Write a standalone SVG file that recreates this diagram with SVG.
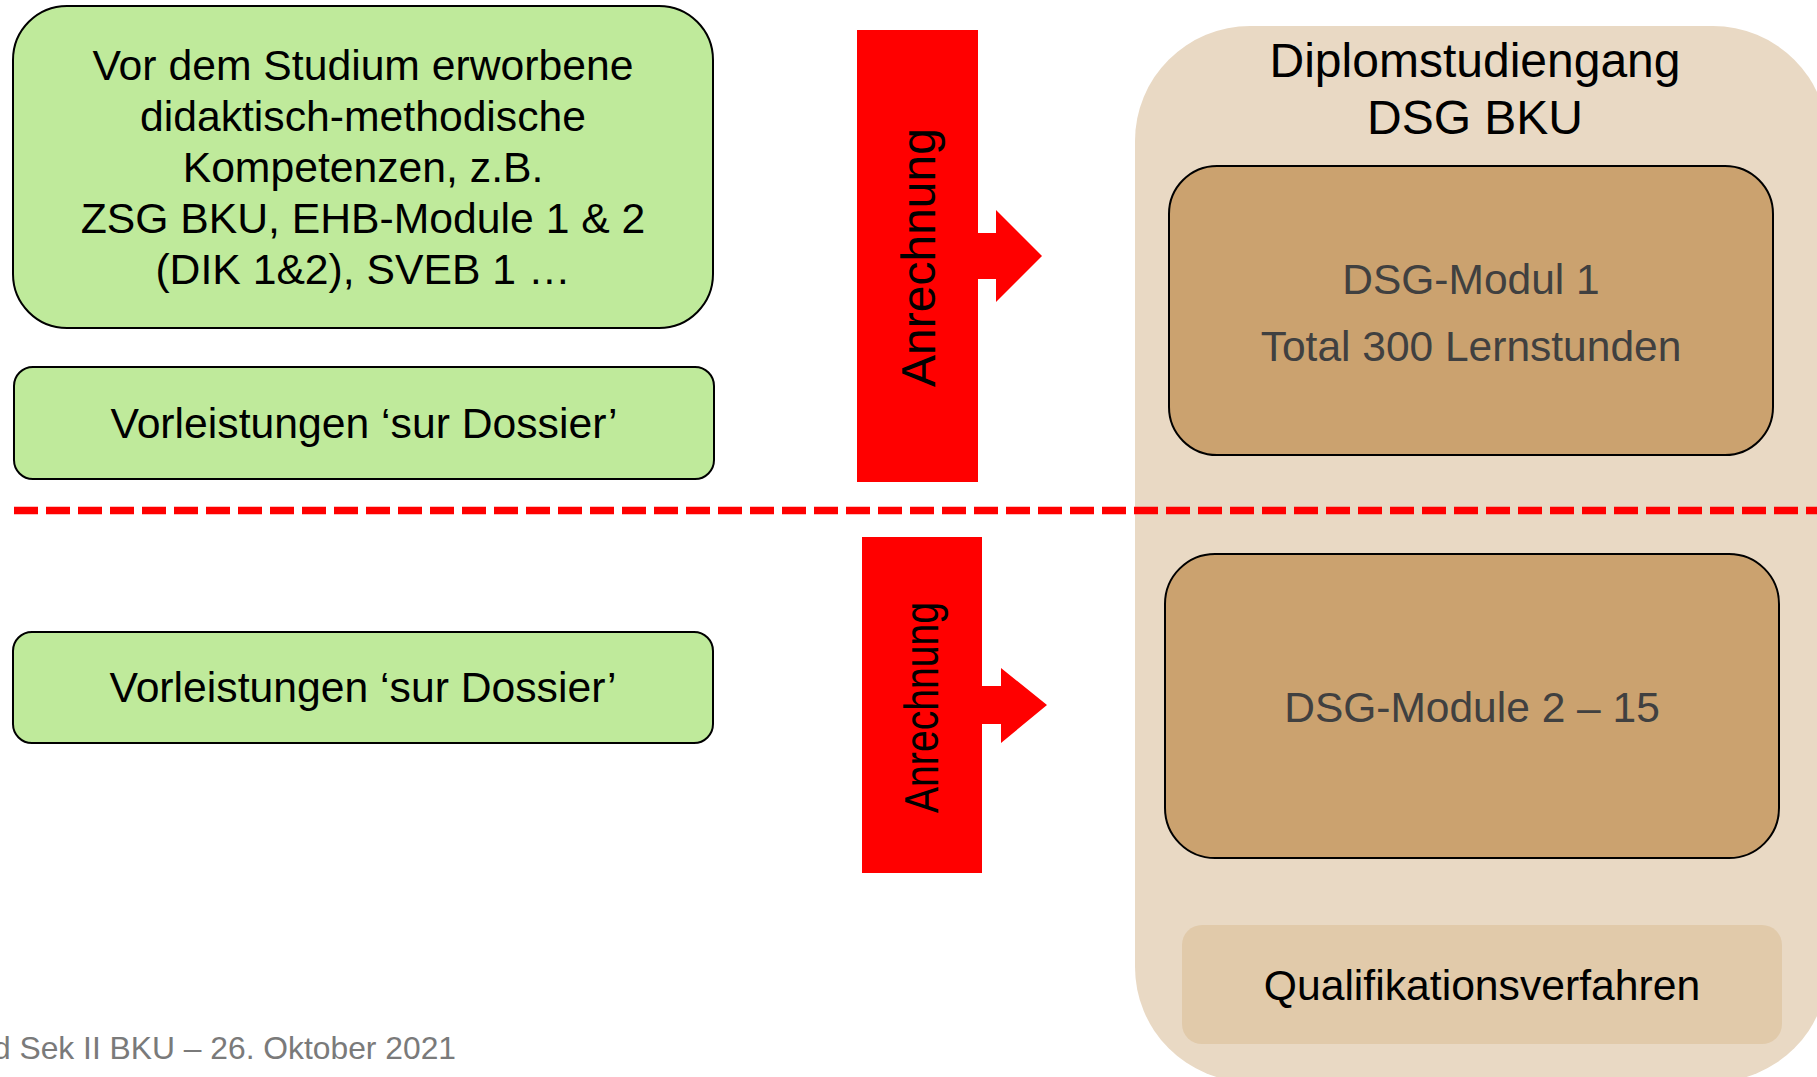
<svg xmlns="http://www.w3.org/2000/svg" width="1817" height="1077" viewBox="0 0 1817 1077">
<style>
text{font-family:"Liberation Sans",Arial,sans-serif;}
.green{fill:#BFEA9B;stroke:#000;stroke-width:2;}
.mod{fill:#CBA26F;stroke:#000;stroke-width:2;}
.t42{font-size:42.7px;fill:#000;text-anchor:middle;}
.g42{font-size:42.5px;fill:#404040;text-anchor:middle;}
.arrow{fill:#FF0000;}
.rot{font-size:48px;fill:#000;text-anchor:middle;}
</style>
<rect width="1817" height="1077" fill="#FFFFFF"/>

<g id="container">
  <rect x="1135" y="26" width="693" height="1056" rx="115" ry="115" fill="#E9D9C4"/>
  <text x="1475" y="77" font-size="48" text-anchor="middle" fill="#000">Diplomstudiengang</text>
  <text x="1475" y="134" font-size="48" text-anchor="middle" fill="#000">DSG BKU</text>
</g>

<g id="vorstudium">
  <rect class="green" x="13" y="6" width="700" height="322" rx="54" ry="54"/>
  <text class="t42" x="363" y="80">Vor dem Studium erworbene</text>
  <text class="t42" x="363" y="131">didaktisch-methodische</text>
  <text class="t42" x="363" y="182">Kompetenzen, z.B.</text>
  <text class="t42" x="363" y="233">ZSG BKU, EHB-Module 1 &amp; 2</text>
  <text class="t42" x="363" y="284">(DIK 1&amp;2), SVEB 1 …</text>
</g>

<g id="vorleistungen1">
  <rect class="green" x="14" y="367" width="700" height="112" rx="19" ry="19"/>
  <text class="t42" x="364" y="438">Vorleistungen ‘sur Dossier’</text>
</g>

<g id="vorleistungen2">
  <rect class="green" x="13" y="632" width="700" height="111" rx="19" ry="19"/>
  <text class="t42" x="363" y="702">Vorleistungen ‘sur Dossier’</text>
</g>

<g id="modul1">
  <rect class="mod" x="1169" y="166" width="604" height="289" rx="48" ry="48"/>
  <text class="g42" x="1471" y="294">DSG-Modul 1</text>
  <text class="g42" x="1471" y="361">Total 300 Lernstunden</text>
</g>

<g id="modul2">
  <rect class="mod" x="1165" y="554" width="614" height="304" rx="50" ry="50"/>
  <text class="g42" x="1472" y="722">DSG-Module 2 – 15</text>
</g>

<g id="qv">
  <rect x="1182" y="925" width="600" height="119" rx="20" ry="20" fill="#E1CAAA"/>
  <text class="t42" x="1482" y="1000">Qualifikationsverfahren</text>
</g>

<g id="connectors">
  <line x1="14" y1="510.5" x2="1817" y2="510.5" stroke="#FF0000" stroke-width="7.5" stroke-dasharray="24 8"/>
  <g id="anrechnung1">
    <path class="arrow" d="M857,30 H978 V233 H996 V210 L1042,256 L996,302 V279 H978 V482 H857 Z"/>
    <text class="rot" transform="translate(935,257.5) rotate(-90)" x="0" y="0">Anrechnung</text>
  </g>
  <g id="anrechnung2">
    <path class="arrow" d="M862,537 H982 V686 H1001 V668 L1047,705 L1001,743 V724 H982 V873 H862 Z"/>
    <text class="rot" transform="translate(938,707.5) rotate(-90)" x="0" y="0" font-size="46" textLength="211" lengthAdjust="spacingAndGlyphs">Anrechnung</text>
  </g>
</g>

<g id="footer">
  <text x="456" y="1059" font-size="31.8" text-anchor="end" fill="#7A7A7A">d Sek II BKU – 26. Oktober 2021</text>
</g>
</svg>
